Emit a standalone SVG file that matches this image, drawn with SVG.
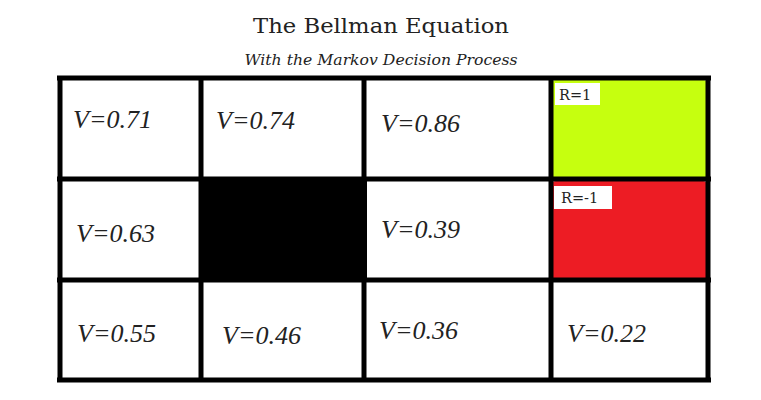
<svg xmlns="http://www.w3.org/2000/svg" width="761" height="400" viewBox="0 0 761 400">
<style>
.title{font-family:"DejaVu Serif",serif;font-size:21px;fill:#222}
.sub{font-family:"DejaVu Serif",serif;font-size:15.5px;font-style:italic;fill:#222}
.v{font-family:"Liberation Serif",serif;font-size:26px;font-style:italic;fill:#222}
.r{font-family:"DejaVu Serif",serif;font-size:14.5px;fill:#222}
.grid{stroke:#000;stroke-width:5;fill:none}
</style>
<rect width="761" height="400" fill="#fff"/>
<g id="title">
<text class="title" x="381" y="33" text-anchor="middle" textLength="256" lengthAdjust="spacingAndGlyphs">The Bellman Equation</text>
<text class="sub" x="381" y="65" text-anchor="middle" textLength="273" lengthAdjust="spacingAndGlyphs">With the Markov Decision Process</text>
</g>
<g id="cell-goal">
<rect x="552" y="80" width="155" height="98" rx="4" fill="#C6FF0F"/>
<rect x="555" y="83" width="45" height="22" fill="#fff"/>
<text class="r" x="559" y="100">R=1</text>
</g>
<g id="cell-pit">
<rect x="552" y="181" width="155" height="98" rx="4" fill="#ED1C24"/>
<rect x="554" y="186" width="58" height="23" fill="#fff"/>
<text class="r" x="561" y="203">R=-1</text>
</g>
<g id="cell-wall">
<rect x="199" y="177" width="168" height="105" fill="#000"/>
</g>
<g id="grid">
<line class="grid" x1="57" y1="78" x2="711" y2="78"/>
<line class="grid" x1="57" y1="179" x2="711" y2="179"/>
<line class="grid" x1="57" y1="280" x2="711" y2="280"/>
<line class="grid" x1="57" y1="380" x2="711" y2="380"/>
<line class="grid" x1="60" y1="76" x2="60" y2="382"/>
<line class="grid" x1="201" y1="76" x2="201" y2="382"/>
<line class="grid" x1="364" y1="76" x2="364" y2="382"/>
<line class="grid" x1="551" y1="76" x2="551" y2="382"/>
<line class="grid" x1="708" y1="76" x2="708" y2="382"/>
</g>
<g id="values">
<text class="v" x="73" y="128">V=0.71</text>
<text class="v" x="216" y="129">V=0.74</text>
<text class="v" x="381" y="132">V=0.86</text>
<text class="v" x="76" y="242">V=0.63</text>
<text class="v" x="381" y="238">V=0.39</text>
<text class="v" x="77" y="342">V=0.55</text>
<text class="v" x="222" y="344">V=0.46</text>
<text class="v" x="379" y="339">V=0.36</text>
<text class="v" x="567" y="342">V=0.22</text>
</g>
</svg>
